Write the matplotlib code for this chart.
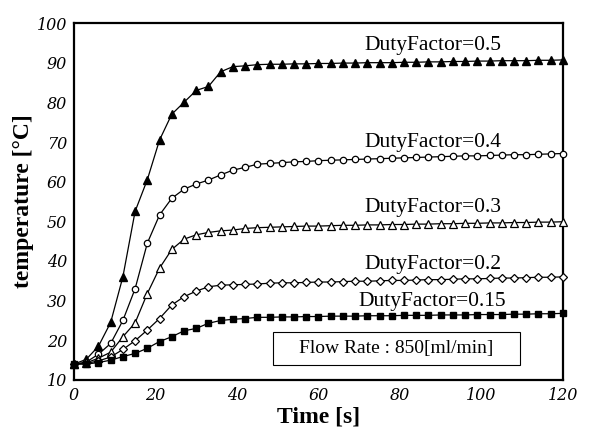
import matplotlib
matplotlib.use('Agg')
import matplotlib.pyplot as plt
from matplotlib.patches import Rectangle

# Tempo de amostragem (a cada 3 s)
tempo = [0, 3, 6, 9, 12, 15, 18, 21, 24, 27, 30, 33, 36, 39, 42, 45,
         48, 51, 54, 57, 60, 63, 66, 69, 72, 75, 78, 81, 84, 87, 90,
         93, 96, 99, 102, 105, 108, 111, 114, 117, 120]

temp_05 = [14, 15.2, 18.5, 24.5, 36, 52.5, 60.5, 70.5, 77, 80, 83, 84, 87.7, 89, 89.2, 89.5,
           89.6, 89.6, 89.7, 89.7, 89.8, 89.8, 89.9, 89.9, 90.0, 90.0, 90.0, 90.1, 90.1,
           90.2, 90.2, 90.3, 90.3, 90.4, 90.4, 90.5, 90.5, 90.5, 90.6, 90.6, 90.7]
temp_04 = [14, 14.5, 16.5, 19.2, 25, 33, 44.5, 51.6, 55.8, 58.1, 59.4, 60.4, 61.7, 62.9, 63.6, 64.4,
           64.6, 64.8, 65.0, 65.1, 65.3, 65.4, 65.5, 65.6, 65.7, 65.8, 65.9, 66.0, 66.1,
           66.2, 66.3, 66.4, 66.5, 66.5, 66.6, 66.7, 66.8, 66.8, 66.9, 67.0, 67.1]
temp_03 = [14, 14.3, 15.5, 17.0, 20.9, 24.4, 31.8, 38.2, 42.9, 45.5, 46.6, 47.2, 47.6, 47.8, 48.2, 48.4,
           48.5, 48.6, 48.7, 48.8, 48.8, 48.9, 49.0, 49.0, 49.1, 49.1, 49.2, 49.2, 49.3,
           49.3, 49.4, 49.4, 49.5, 49.5, 49.6, 49.6, 49.7, 49.7, 49.8, 49.8, 49.9]
temp_02 = [14, 14.2, 14.8, 15.8, 17.7, 19.9, 22.6, 25.5, 28.9, 31, 32.4, 33.5, 33.9, 34.0, 34.1, 34.2,
           34.4, 34.5, 34.5, 34.6, 34.7, 34.7, 34.8, 34.9, 34.9, 35.0, 35.1, 35.1, 35.2,
           35.3, 35.3, 35.4, 35.5, 35.5, 35.6, 35.7, 35.7, 35.8, 35.9, 35.9, 36.0]
temp_015 = [14, 14, 14.4, 15, 15.9, 16.7, 18, 19.7, 20.9, 22.4, 23, 24.3, 25, 25.3, 25.5, 25.8,
            25.8, 25.9, 25.9, 26.0, 26.0, 26.1, 26.1, 26.1, 26.2, 26.2, 26.2, 26.3, 26.3,
            26.3, 26.4, 26.4, 26.4, 26.5, 26.5, 26.5, 26.6, 26.6, 26.7, 26.7, 26.8]

rotulos = ['DutyFactor=0.5', 'DutyFactor=0.4', 'DutyFactor=0.3', 'DutyFactor=0.2', 'DutyFactor=0.15']
rotulo_y = [93.2, 68.8, 52.4, 37.9, 28.6]

serif = 'Liberation Serif'

fig = plt.figure(figsize=(5.9, 4.3), dpi=100)
ax = fig.add_axes([0.1254, 0.1163, 0.8286, 0.8302])

# Cada serie com seu marcador
estilo = dict(color='black', lw=0.9, clip_on=False, zorder=3)
ax.plot(tempo, temp_05, marker='^', ms=5.5, mfc='black', mec='black', **estilo)
ax.plot(tempo, temp_04, marker='o', ms=4.6, mfc='white', mec='black', mew=0.9, **estilo)
ax.plot(tempo, temp_03, marker='^', ms=5.3, mfc='white', mec='black', mew=0.9, **estilo)
ax.plot(tempo, temp_02, marker='D', ms=4.2, mfc='white', mec='black', mew=0.9, **estilo)
ax.plot(tempo, temp_015, marker='s', ms=4.6, mfc='black', mec='black', **estilo)

# Rotulos das curvas
for texto, y in zip(rotulos, rotulo_y):
    ax.text(88, y, texto, ha='center', va='baseline', fontsize=15.5, family=serif)

# Caixa com a vazao
ax.add_patch(Rectangle((48.8, 13.8), 60.6, 8.4, fill=False, lw=0.8, ec='black', zorder=2))
ax.text(79.1, 18.0, 'Flow Rate : 850[ml/min]', ha='center', va='center', fontsize=14, family=serif)

ax.set_xlim(0, 120)
ax.set_ylim(10, 100)
ax.set_xticks(range(0, 121, 20))
ax.set_yticks(range(10, 101, 10))
ax.tick_params(length=0, labelsize=11.5)
ax.tick_params(axis='x', pad=5)
ax.tick_params(axis='y', pad=5)
for lbl in ax.get_xticklabels() + ax.get_yticklabels():
    lbl.set_family('DejaVu Serif')
    lbl.set_style('italic')

for s in ax.spines.values():
    s.set_linewidth(1.6)

ax.set_xlabel('Time [s]', fontsize=17, fontweight='bold', family=serif, labelpad=2)
ax.set_ylabel('temperature [°C]', fontsize=17, fontweight='bold', family=serif, labelpad=2)

plt.savefig('out.png', dpi=100)
